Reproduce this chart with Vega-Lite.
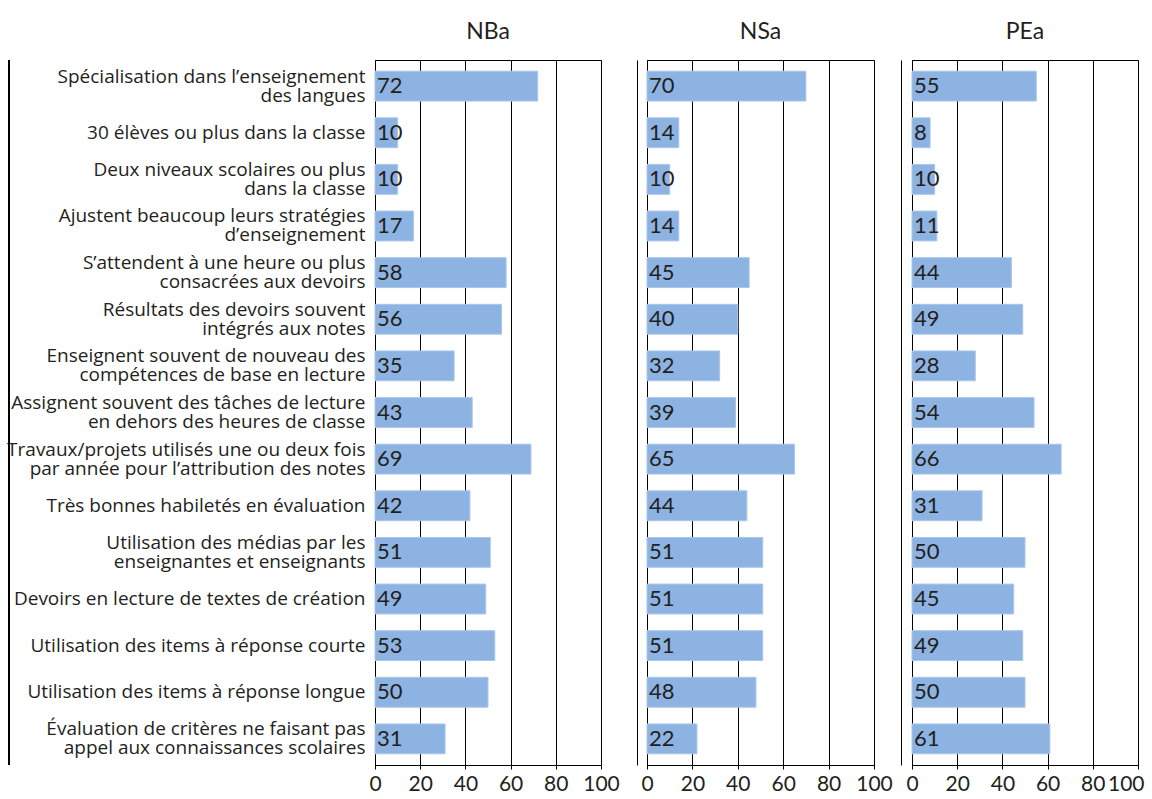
{
  "$schema": "https://vega.github.io/schema/vega-lite/v6.json",
  "padding": {"left": 6, "top": 20, "right": 0, "bottom": 0},
  "background": "white",
  "config": {
    "font": "Lato",
    "view": {"stroke": "#000000", "strokeWidth": 1},
    "title": {"fontSize": 23, "fontWeight": "normal", "color": "#231f20", "font": "Lato", "anchor": "middle", "offset": 16},
    "axisX": {
      "grid": true, "gridColor": "#000000", "gridOpacity": 1, "gridWidth": 1,
      "domainColor": "#000000", "tickColor": "#000000", "tickSize": 4,
      "labelFontSize": 21, "labelColor": "#231f20", "labelFont": "Lato", "labelPadding": 4,
      "values": [0, 20, 40, 60, 80, 100], "title": null, "labelFlush": false
    }
  },
  "data": {"values": [
    {"cat": "Spécialisation dans l’enseignement|des langues", "NBa": 72, "NSa": 70, "PEa": 55},
    {"cat": "30 élèves ou plus dans la classe", "NBa": 10, "NSa": 14, "PEa": 8},
    {"cat": "Deux niveaux scolaires ou plus|dans la classe", "NBa": 10, "NSa": 10, "PEa": 10},
    {"cat": "Ajustent beaucoup leurs stratégies|d’enseignement", "NBa": 17, "NSa": 14, "PEa": 11},
    {"cat": "S’attendent à une heure ou plus|consacrées aux devoirs", "NBa": 58, "NSa": 45, "PEa": 44},
    {"cat": "Résultats des devoirs souvent|intégrés aux notes", "NBa": 56, "NSa": 40, "PEa": 49},
    {"cat": "Enseignent souvent de nouveau des|compétences de base en lecture", "NBa": 35, "NSa": 32, "PEa": 28},
    {"cat": "Assignent souvent des tâches de lecture|en dehors des heures de classe", "NBa": 43, "NSa": 39, "PEa": 54},
    {"cat": "Travaux/projets utilisés une ou deux fois|par année pour l’attribution des notes", "NBa": 69, "NSa": 65, "PEa": 66},
    {"cat": "Très bonnes habiletés en évaluation", "NBa": 42, "NSa": 44, "PEa": 31},
    {"cat": "Utilisation des médias par les|enseignantes et enseignants", "NBa": 51, "NSa": 51, "PEa": 50},
    {"cat": "Devoirs en lecture de textes de création", "NBa": 49, "NSa": 51, "PEa": 45},
    {"cat": "Utilisation des items à réponse courte", "NBa": 53, "NSa": 51, "PEa": 49},
    {"cat": "Utilisation des items à réponse longue", "NBa": 50, "NSa": 48, "PEa": 50},
    {"cat": "Évaluation de critères ne faisant pas|appel aux connaissances scolaires", "NBa": 31, "NSa": 22, "PEa": 61}
  ]},
  "bounds": "flush",
  "spacing": 46,
  "resolve": {"scale": {"y": "independent"}, "axis": {"y": "independent"}},
  "hconcat": [
    {
      "title": "NBa",
      "width": 226, "height": 705,
      "layer": [
        {"mark": {"type": "bar", "fill": "#8db3e2", "stroke": "#a9c6ea", "strokeWidth": 1},
         "encoding": {
           "y": {"field": "cat", "type": "nominal", "sort": null,
             "scale": {"paddingInner": 0.36, "paddingOuter": 0.24},
             "axis": {"title": null, "labelExpr": "split(datum.label, '|')", "labelFontSize": 19, "labelFont": "Open Sans", "labelColor": "#231f20", "labelLineHeight": 19, "labelPadding": 10, "ticks": false, "domain": false, "labelLimit": 400,
               "labelOffset": {"condition": {"test": "indexof(datum.value, '|') >= 0", "value": -9.5}, "value": 0}}},
           "x": {"field": "NBa", "type": "quantitative", "scale": {"domain": [0, 100], "nice": false}}}},
        {"mark": {"type": "text", "align": "left", "baseline": "middle", "dx": 2, "fontSize": 22, "font": "Lato", "color": "#231f20"},
         "encoding": {
           "y": {"field": "cat", "type": "nominal", "sort": null},
           "x": {"datum": 0, "type": "quantitative"}, "text": {"field": "NBa", "type": "quantitative"}}},
        {"mark": {"type": "rule", "color": "#000000", "strokeWidth": 1},
         "encoding": {"x": {"datum": -162, "type": "quantitative"}}}
      ]
    },
    {
      "bounds": "flush",
      "spacing": 38,
      "resolve": {"scale": {"y": "independent"}, "axis": {"y": "independent"}},
      "hconcat": [
        {
          "title": "NSa",
          "width": 227, "height": 705,
          "encoding": {
            "y": {"field": "cat", "type": "nominal", "sort": null,
              "scale": {"paddingInner": 0.36, "paddingOuter": 0.24},
              "axis": {"title": null, "labels": false, "ticks": false, "domain": true, "domainColor": "#000000", "offset": 10}}
          },
          "layer": [
            {"mark": {"type": "bar", "fill": "#8db3e2", "stroke": "#a9c6ea", "strokeWidth": 1},
             "encoding": {"x": {"field": "NSa", "type": "quantitative", "scale": {"domain": [0, 100], "nice": false}}}},
            {"mark": {"type": "text", "align": "left", "baseline": "middle", "dx": 2, "fontSize": 22, "font": "Lato", "color": "#231f20"},
             "encoding": {"x": {"datum": 0, "type": "quantitative"}, "text": {"field": "NSa", "type": "quantitative"}}}
          ]
        },
        {
          "title": "PEa",
          "width": 226, "height": 705,
          "encoding": {
            "y": {"field": "cat", "type": "nominal", "sort": null,
              "scale": {"paddingInner": 0.36, "paddingOuter": 0.24},
              "axis": {"title": null, "labels": false, "ticks": false, "domain": true, "domainColor": "#000000", "offset": 11}}
          },
          "layer": [
            {"mark": {"type": "bar", "fill": "#8db3e2", "stroke": "#a9c6ea", "strokeWidth": 1},
             "encoding": {"x": {"field": "PEa", "type": "quantitative", "scale": {"domain": [0, 100], "nice": false},
               "axis": {"labelFlush": true, "labelFlushOffset": 6}}}},
            {"mark": {"type": "text", "align": "left", "baseline": "middle", "dx": 2, "fontSize": 22, "font": "Lato", "color": "#231f20"},
             "encoding": {"x": {"datum": 0, "type": "quantitative"}, "text": {"field": "PEa", "type": "quantitative"}}}
          ]
        }
      ]
    }
  ]
}
